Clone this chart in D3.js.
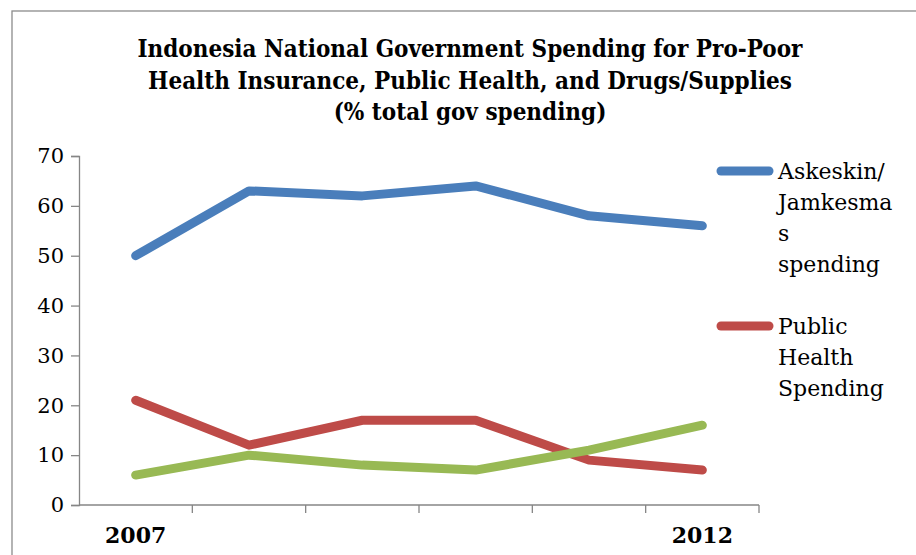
<!DOCTYPE html>
<html>
<head>
<meta charset="utf-8">
<script src="https://cdn.jsdelivr.net/npm/d3@7"></script>
<style>
  html, body { margin: 0; padding: 0; background: #fff; }
  svg { display: block; }
</style>
</head>
<body>
<svg id="chart" width="916" height="555"></svg>
<script>
// Years on the category axis and the labels shown under it
const years = ["2007", "2008", "2009", "2010", "2011", "2012"];
const yearLabels = ["2007", "", "", "", "", "2012"];
const yTicks = [0, 10, 20, 30, 40, 50, 60, 70];

// Share of total government spending (%)
const askeskinJamkesmas = [50, 63, 62, 64, 58, 56];
const publicHealth = [21, 12, 17, 17, 9, 7];
const drugsSupplies = [6, 10, 8, 7, 11, 16];

const titleLines = [
  "Indonesia National Government Spending for Pro-Poor",
  "Health Insurance, Public Health, and Drugs/Supplies",
  "(% total gov spending)"
];

const series = [
  { values: askeskinJamkesmas, color: "#4a7ebb", legend: ["Askeskin/", "Jamkesma", "s", "spending"] },
  { values: publicHealth, color: "#be4b48", legend: ["Public", "Health", "Spending"] },
  { values: drugsSupplies, color: "#98b954", legend: null }
];

const svg = d3.select("#chart");
const axisGray = "#868686";
const textFont = "'DejaVu Serif', 'Liberation Serif', serif";

// Chart frame
svg.append("rect")
  .attr("x", 12).attr("y", 11)
  .attr("width", 940).attr("height", 600)
  .attr("fill", "none")
  .attr("stroke", "#8c8c8c")
  .attr("stroke-width", 1.3);

// Title
const title = svg.append("g");
const titleNodes = title.selectAll("text")
  .data(titleLines)
  .join("text")
  .attr("x", 470)
  .attr("y", (d, i) => 57 + i * 31.5)
  .attr("text-anchor", "middle")
  .attr("font-family", "'DejaVu Serif Condensed', 'DejaVu Serif', serif")
  .attr("font-weight", "bold")
  .attr("font-size", 25)
  .attr("fill", "#000")
  .text(d => d);
const firstLen = titleNodes.nodes()[0].getComputedTextLength();
const squeeze = 665 / firstLen;
titleNodes.each(function () {
  const len = this.getComputedTextLength();
  d3.select(this)
    .attr("textLength", len * squeeze)
    .attr("lengthAdjust", "spacingAndGlyphs");
});

// Scales
const x = d3.scaleBand().domain(years).range([79, 759]);
const y = d3.scaleLinear().domain([0, 70]).range([505, 156]);

// Y axis
const yAxis = svg.append("g")
  .attr("transform", "translate(79,0)")
  .call(d3.axisLeft(y).tickValues(yTicks).tickSize(8).tickPadding(7).tickFormat(d3.format("d")));
yAxis.select(".domain").attr("stroke", axisGray).attr("stroke-width", 1.3);
yAxis.selectAll(".tick line").attr("stroke", axisGray).attr("stroke-width", 1.3);
yAxis.selectAll(".tick text")
  .attr("font-family", textFont)
  .attr("font-size", 21)
  .attr("fill", "#000");

// X axis: line with tick marks on category boundaries
const xAxisG = svg.append("g").attr("transform", "translate(0,505)");
xAxisG.append("line")
  .attr("x1", x.range()[0]).attr("x2", x.range()[1])
  .attr("stroke", axisGray).attr("stroke-width", 1.3);
const boundaries = years.map(d => x(d)).concat([x.range()[1]]);
xAxisG.selectAll("line.tick")
  .data(boundaries.slice(1))
  .join("line")
  .attr("class", "tick")
  .attr("x1", d => d).attr("x2", d => d)
  .attr("y1", 0).attr("y2", 8)
  .attr("stroke", axisGray).attr("stroke-width", 1.3);
xAxisG.selectAll("text")
  .data(years)
  .join("text")
  .attr("x", d => x(d) + x.bandwidth() / 2)
  .attr("y", 38)
  .attr("text-anchor", "middle")
  .attr("font-family", textFont)
  .attr("font-weight", "bold")
  .attr("font-size", 22)
  .attr("fill", "#000")
  .text((d, i) => yearLabels[i]);

// Series lines
const line = d3.line()
  .x((d, i) => x(years[i]) + x.bandwidth() / 2)
  .y(d => y(d));

svg.append("g")
  .selectAll("path")
  .data(series)
  .join("path")
  .attr("d", d => line(d.values))
  .attr("fill", "none")
  .attr("stroke", d => d.color)
  .attr("stroke-width", 9)
  .attr("stroke-linecap", "round")
  .attr("stroke-linejoin", "round");

// Legend
const legendTops = [171, 326];
const legendItems = series.filter(s => s.legend);
const legend = svg.append("g");
legendItems.forEach((s, k) => {
  const cy = legendTops[k];
  legend.append("line")
    .attr("x1", 721).attr("x2", 769)
    .attr("y1", cy).attr("y2", cy)
    .attr("stroke", s.color)
    .attr("stroke-width", 9)
    .attr("stroke-linecap", "round");
  legend.selectAll(null)
    .data(s.legend)
    .join("text")
    .attr("x", 778)
    .attr("y", (d, i) => cy + 8 + i * 31)
    .attr("font-family", textFont)
    .attr("font-size", 22)
    .attr("fill", "#000")
    .text(d => d);
});
</script>
</body>
</html>
